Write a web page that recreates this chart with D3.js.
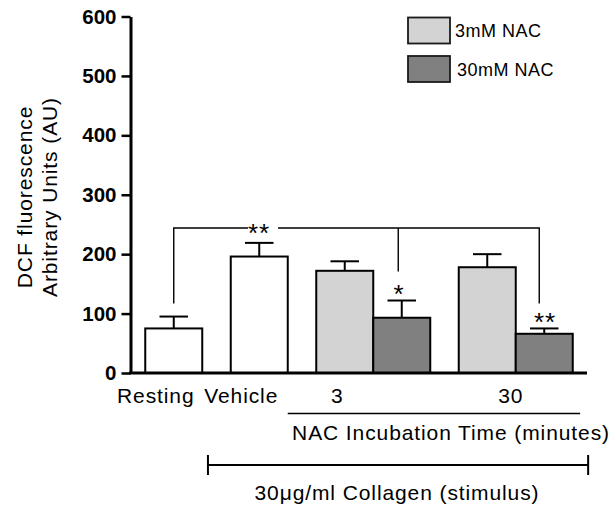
<!DOCTYPE html>
<html>
<head>
<meta charset="utf-8">
<script src="https://cdn.jsdelivr.net/npm/d3@7"></script>
<style>
  body { margin: 0; background: #fff; }
  svg { display: block; font-family: "Liberation Sans", Arial, sans-serif; }
</style>
</head>
<body>
<svg width="612" height="508"></svg>
<script>
// data
const categories = ["Resting", "Vehicle", "3", "30"];
const controlMeans = [75, 196];
const controlErrors = [20, 23];
const nac3Means = [172, 178];
const nac3Errors = [16, 22];
const nac30Means = [93, 66];
const nac30Errors = [29, 9];
const seriesNames = ["3mM NAC", "30mM NAC"];
const yTicks = [0, 100, 200, 300, 400, 500, 600];

const FILLS = { control: "#ffffff", nac3: "#d3d3d3", nac30: "#808080" };
const FONT_SIZE = 21;
const FONT_LS = 0.9;

const svg = d3.select("svg");

// x is in "bar width" units, y in AU
const x = d3.scaleLinear().domain([0, 8]).range([131, 587]);
const y = d3.scaleLinear().domain([0, 600]).range([373, 16.5]);

// build bar list, laying bars out group by group
const bars = [];
let cursor = 0.25;
const groupCenter = {};
categories.forEach((cat, i) => {
  let series;
  if (i < 2) {
    series = [{ key: "control", value: controlMeans[i], err: controlErrors[i] }];
  } else {
    series = [
      { key: "nac3", value: nac3Means[i - 2], err: nac3Errors[i - 2] },
      { key: "nac30", value: nac30Means[i - 2], err: nac30Errors[i - 2] },
    ];
  }
  series.forEach((s, j) => {
    bars.push({ cat, key: s.key, value: s.value, err: s.err, x0: cursor + j });
  });
  groupCenter[cat] = cursor + series.length / 2;
  cursor += series.length + 0.5;
});

const barW = x(1) - x(0);
const cx = (b) => x(b.x0 + 0.5);

// error bars (drawn first so the bar outline sits over the stem)
const err = svg.append("g").attr("stroke", "#000").attr("stroke-width", 2);
err.selectAll("line.stem")
  .data(bars)
  .enter()
  .append("line")
  .attr("x1", cx).attr("x2", cx)
  .attr("y1", (b) => y(b.value))
  .attr("y2", (b) => y(b.value + b.err));
err.selectAll("line.cap")
  .data(bars)
  .enter()
  .append("line")
  .attr("x1", (b) => cx(b) - barW / 4)
  .attr("x2", (b) => cx(b) + barW / 4)
  .attr("y1", (b) => y(b.value + b.err))
  .attr("y2", (b) => y(b.value + b.err));

// bars
svg.append("g")
  .selectAll("rect")
  .data(bars)
  .enter()
  .append("rect")
  .attr("x", (b) => x(b.x0))
  .attr("y", (b) => y(b.value))
  .attr("width", barW)
  .attr("height", (b) => y(0) - y(b.value))
  .attr("fill", (b) => FILLS[b.key])
  .attr("stroke", "#000")
  .attr("stroke-width", 2);

// y axis
const yAxis = svg.append("g")
  .attr("transform", `translate(${x(0) - 0.5},0)`)
  .call(d3.axisLeft(y).tickValues(yTicks).tickSize(9).tickPadding(5).tickSizeOuter(0));
yAxis.select(".domain").attr("stroke-width", 3);
yAxis.selectAll(".tick line").attr("stroke-width", 2.5);
yAxis.selectAll(".tick text")
  .attr("font-size", 20.5)
  .attr("font-weight", "bold")
  .attr("font-family", "Liberation Sans, Arial, sans-serif")
  .attr("fill", "#000");

// x axis line
svg.append("line")
  .attr("x1", x(0) - 2).attr("x2", x(8))
  .attr("y1", y(0)).attr("y2", y(0))
  .attr("stroke", "#000").attr("stroke-width", 3);

// text helper
const label = (px, py, str, opts = {}) => {
  const t = svg.append("text")
    .attr("x", px).attr("y", py)
    .attr("font-size", opts.size || FONT_SIZE)
    .attr("letter-spacing", opts.ls === undefined ? FONT_LS : opts.ls)
    .attr("text-anchor", opts.anchor || "middle")
    .attr("fill", "#000")
    .text(str);
  if (opts.rotate) t.attr("transform", `rotate(-90,${px},${py})`);
  return t;
};

// y axis title
label(32, 197, "DCF fluorescence", { rotate: true });
label(57, 197, "Arbitrary Units (AU)", { rotate: true });

// category labels
const labelNudge = [-18, -18, -36, -5];
categories.forEach((cat, i) => {
  label(x(groupCenter[cat]) + labelNudge[i], 403, cat);
});

// NAC incubation underline + label
svg.append("line")
  .attr("x1", x(2.75)).attr("x2", x(7.88))
  .attr("y1", 413.5).attr("y2", 413.5)
  .attr("stroke", "#000").attr("stroke-width", 1.5);
label(451, 440, "NAC Incubation Time (minutes)");

// collagen stimulus bar
const colX1 = x(1.35), colX2 = x(8.02);
const col = svg.append("g").attr("stroke", "#000").attr("stroke-width", 2);
col.append("line").attr("x1", colX1).attr("x2", colX2).attr("y1", 465).attr("y2", 465);
col.append("line").attr("x1", colX1).attr("x2", colX1).attr("y1", 455).attr("y2", 475);
col.append("line").attr("x1", colX2).attr("x2", colX2).attr("y1", 455).attr("y2", 475);
label(397, 500, "30\u03bcg/ml Collagen (stimulus)");

// significance bracket
const bRest = bars[0], b3 = bars[3], b30 = bars[5];
const yTop = y(244);
const sig = svg.append("g").attr("stroke", "#000").attr("stroke-width", 1.4).attr("fill", "none");
sig.append("path").attr("d",
  `M${cx(bRest)},${y(117)} V${yTop} H248`);
sig.append("path").attr("d",
  `M278,${yTop} H${cx(b30) - 5} V${y(117)}`);
sig.append("line")
  .attr("x1", cx(b3) - 3.5).attr("x2", cx(b3) - 3.5)
  .attr("y1", yTop).attr("y2", y(171));
label(259, 242, "**", { size: 26, ls: 1 });
label(398.5, 302.5, "*", { size: 26, ls: 0 });
label(545, 330.5, "**", { size: 26, ls: 1 });

// legend
const legendKeys = ["nac3", "nac30"];
const leg = svg.append("g");
legendKeys.forEach((k, i) => {
  const ly = 17.5 + i * 38.5;
  leg.append("rect")
    .attr("x", 408).attr("y", ly)
    .attr("width", 42).attr("height", 26)
    .attr("fill", FILLS[k])
    .attr("stroke", "#1a1a1a").attr("stroke-width", 1.8);
  label(455 + i * 2, ly + 19.5, seriesNames[i], { anchor: "start", size: 18, ls: 0.5 });
});
</script>
</body>
</html>
